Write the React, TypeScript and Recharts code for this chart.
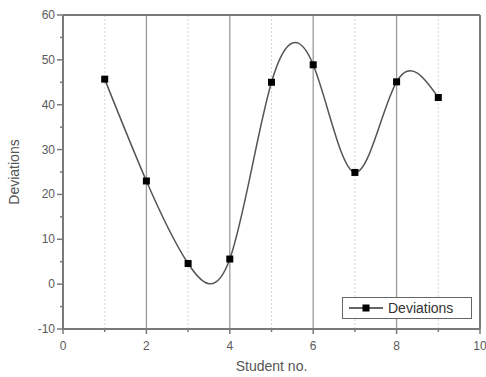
import { LineChart, Line, XAxis, YAxis, ReferenceLine } from 'recharts'

const students = [1, 2, 3, 4, 5, 6, 7, 8, 9]
const deviations = [45.7, 23, 4.6, 5.6, 45, 48.9, 24.9, 45.1, 41.6]

const xTicks = [0, 1, 2, 3, 4, 5, 6, 7, 8, 9, 10]
const yTicks = [-10, -5, 0, 5, 10, 15, 20, 25, 30, 35, 40, 45, 50, 55, 60]
const majorGridX = [2, 4, 6, 8]
const minorGridX = [1, 3, 5, 7, 9]

const data = students.map((s, i) => ({ student: s, deviation: deviations[i] }))

const FONT = '"Liberation Sans", Arial, sans-serif'
const AXIS = '#7a7a7a'
const TEXT = '#5a5a5a'

const XTick = ({ x, y, payload }: any) => {
  const major = payload.value % 2 === 0
  return (
    <g>
      <line x1={x} x2={x} y1={y} y2={y + (major ? 5 : 3)} stroke={AXIS} strokeWidth={1.5} />
      {major && (
        <text x={x} y={y + 21} textAnchor="middle" fontSize={12} fill={TEXT} fontFamily={FONT}>
          {payload.value}
        </text>
      )}
    </g>
  )
}

const YTick = ({ x, y, payload }: any) => {
  const major = payload.value % 10 === 0
  return (
    <g>
      <line x1={x} x2={x - (major ? 6 : 3)} y1={y} y2={y} stroke={AXIS} strokeWidth={1.5} />
      {major && (
        <text x={x - 8} y={y + 4} textAnchor="end" fontSize={12} fill={TEXT} fontFamily={FONT}>
          {payload.value}
        </text>
      )}
    </g>
  )
}

const SquareDot = ({ cx, cy }: any) => (
  <rect x={cx - 3.5} y={cy - 3.5} width={7} height={7} fill="#000" />
)

const LegendBox = () => (
  <div
    style={{
      position: 'absolute',
      left: 342,
      top: 297,
      border: '1px solid #666',
      background: '#fff',
      display: 'flex',
      alignItems: 'center',
      padding: '2px 4px',
      width: 120,
      fontFamily: FONT,
    }}
  >
    <svg width={38} height={16}>
      <line x1={2} x2={36} y1={8} y2={8} stroke="#333" strokeWidth={1.5} />
      <rect x={15.5} y={4.5} width={7} height={7} fill="#000" />
    </svg>
    <span style={{ fontSize: 14, color: '#333', marginLeft: 3 }}>Deviations</span>
  </div>
)

export default function App() {
  return (
    <div style={{ position: 'absolute', left: 0, top: 0, width: 486, height: 377, background: '#fff' }}>
      <LineChart width={486} height={377} data={data} margin={{ top: 15, right: 6, left: 0, bottom: 0 }}>
        {/* grid lines at odd student numbers, dotted */}
        {minorGridX.map(v => (
          <ReferenceLine key={'m' + v} x={v} stroke="#d8d8d8" strokeDasharray="2 2" strokeWidth={1} />
        ))}
        {majorGridX.map(v => (
          <ReferenceLine key={'M' + v} x={v} stroke="#9a9a9a" strokeWidth={1.3} />
        ))}
        <ReferenceLine y={60} stroke={AXIS} strokeWidth={2} />
        <ReferenceLine x={10} stroke={AXIS} strokeWidth={2} />
        <XAxis
          dataKey="student"
          type="number"
          domain={[0, 10]}
          ticks={xTicks}
          interval={0}
          tickSize={0}
          tickMargin={0}
          tick={<XTick />}
          height={48}
          axisLine={{ stroke: AXIS, strokeWidth: 2 }}
          label={{ value: 'Student no.', position: 'insideBottom', offset: 6, fontSize: 14, fill: '#555', fontFamily: FONT }}
        />
        <YAxis
          type="number"
          domain={[-10, 60]}
          ticks={yTicks}
          interval={0}
          tickSize={0}
          tickMargin={0}
          tick={<YTick />}
          width={63}
          axisLine={{ stroke: AXIS, strokeWidth: 2 }}
          label={{ value: 'Deviations', angle: -90, position: 'insideLeft', offset: 14, fontSize: 14, fill: '#555', fontFamily: FONT, style: { textAnchor: 'middle' } }}
        />
        <Line
          type="natural"
          dataKey="deviation"
          name="Deviations"
          stroke="#555"
          strokeWidth={1.5}
          dot={<SquareDot />}
          activeDot={false}
          isAnimationActive={false}
        />
      </LineChart>
      <LegendBox />
    </div>
  )
}
